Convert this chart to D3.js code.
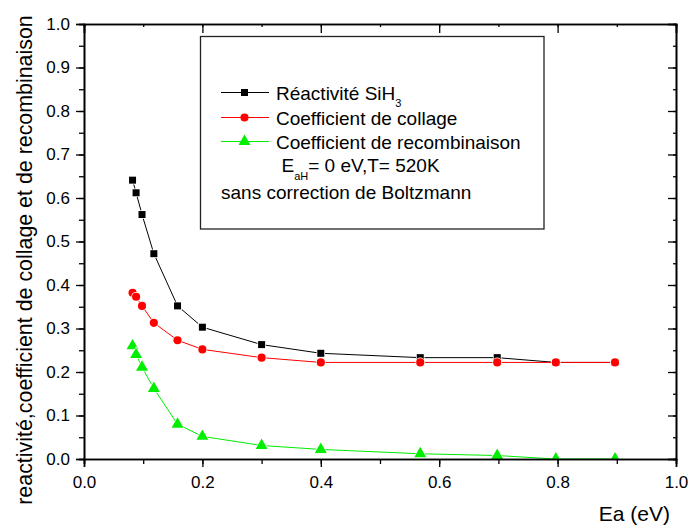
<!DOCTYPE html>
<html>
<head>
<meta charset="utf-8">
<script src="https://cdnjs.cloudflare.com/ajax/libs/d3/7.8.5/d3.min.js"></script>
<style>
body { margin: 0; background: #fff; }
text { font-family: "Liberation Sans", Arial, sans-serif; fill: #000; }
</style>
</head>
<body>
<svg></svg>
<script>
const width = 688;
const height = 527;

// data
const ea = [0.082, 0.088, 0.098, 0.118, 0.158, 0.2, 0.3, 0.4, 0.568, 0.698, 0.797, 0.897];
const reactivite = [0.641, 0.612, 0.562, 0.472, 0.352, 0.303, 0.263, 0.243, 0.233, 0.233, 0.222, 0.222];
const collage = [0.382, 0.373, 0.352, 0.313, 0.273, 0.252, 0.233, 0.222, 0.222, 0.222, 0.222, 0.222];
const recombinaison = [0.26, 0.24, 0.211, 0.162, 0.08, 0.052, 0.031, 0.022, 0.012, 0.008, 0.0, 0.0];
const xTicks = [0, 0.2, 0.4, 0.6, 0.8, 1.0];
const yTicks = [0, 0.1, 0.2, 0.3, 0.4, 0.5, 0.6, 0.7, 0.8, 0.9, 1.0];

const svg = d3.select('svg')
    .attr('width', width)
    .attr('height', height);

const plotLeft = 84, plotRight = 676, plotTop = 24, plotBottom = 459;

const x = d3.scaleLinear().domain([0, 1]).range([plotLeft, plotRight]);
const y = d3.scaleLinear().domain([0, 1]).range([plotBottom, plotTop]);

svg.append('clipPath').attr('id', 'plot-clip')
    .append('rect')
    .attr('x', plotLeft).attr('y', plotTop)
    .attr('width', plotRight - plotLeft).attr('height', plotBottom - plotTop);

// series
const series = [
    { name: 'reactivite', values: reactivite, color: '#000000', symbol: d3.symbolSquare, size: 49 },
    { name: 'collage', values: collage, color: '#ff0000', symbol: d3.symbolCircle, size: 52 },
    { name: 'recombinaison', values: recombinaison, color: '#00ee00', symbol: d3.symbolTriangle, size: 62 }
];

const line = d3.line()
    .x(d => x(d[0]))
    .y(d => y(d[1]));

const plot = svg.append('g').attr('clip-path', 'url(#plot-clip)');

series.forEach(s => {
    const pts = ea.map((e, i) => [e, s.values[i]]);
    plot.append('path')
        .datum(pts)
        .attr('d', line)
        .attr('fill', 'none')
        .attr('stroke', s.color)
        .attr('stroke-width', 1);
});
series.forEach(s => {
    const pts = ea.map((e, i) => [e, s.values[i]]);
    plot.append('g').selectAll('path')
        .data(pts)
        .enter()
        .append('path')
        .attr('transform', d => `translate(${x(d[0])},${y(d[1])})`)
        .attr('d', d3.symbol().type(s.symbol).size(s.size))
        .attr('fill', s.color)
        .attr('stroke', '#fff')
        .attr('stroke-width', 1.5)
        .attr('paint-order', 'stroke');
});

// axes
const fmt = d3.format('.1f');
const xMinor = d3.range(0, 1.0001, 0.1);
const yMinor = d3.range(0, 1.0001, 0.05);

svg.append('g')
    .attr('transform', `translate(0,${plotBottom})`)
    .call(d3.axisBottom(x).tickValues(xMinor).tickSize(5).tickFormat(''));
svg.append('g')
    .attr('class', 'lab')
    .attr('transform', `translate(0,${plotBottom})`)
    .call(d3.axisBottom(x).tickValues(xTicks).tickSize(8).tickPadding(9).tickFormat(fmt));
svg.append('g')
    .attr('transform', `translate(${plotLeft},0)`)
    .call(d3.axisLeft(y).tickValues(yMinor).tickSize(5).tickFormat(''));
svg.append('g')
    .attr('class', 'lab')
    .attr('transform', `translate(${plotLeft},0)`)
    .call(d3.axisLeft(y).tickValues(yTicks).tickSize(8).tickPadding(6).tickFormat(fmt));
svg.append('g')
    .attr('transform', `translate(0,${plotTop})`)
    .call(d3.axisTop(x).tickValues(xMinor).tickSize(-3).tickFormat(''));
svg.append('g')
    .attr('transform', `translate(0,${plotTop})`)
    .call(d3.axisTop(x).tickValues(xTicks).tickSize(-9).tickFormat(''));
svg.append('g')
    .attr('transform', `translate(${plotRight},0)`)
    .call(d3.axisRight(y).tickValues(yMinor).tickSize(-3).tickFormat(''));
svg.append('g')
    .attr('transform', `translate(${plotRight},0)`)
    .call(d3.axisRight(y).tickValues(yTicks).tickSize(-8).tickFormat(''));

svg.selectAll('.domain').attr('stroke', '#000').attr('stroke-width', 1.6);
svg.selectAll('.tick line').attr('stroke', '#000').attr('stroke-width', 1.3);
svg.selectAll('.lab .tick text').attr('font-size', 17).attr('fill', '#000')
    .style('font-family', '"Liberation Sans", Arial, sans-serif');

// legend
svg.append('rect')
    .attr('x', 200.5).attr('y', 36.5)
    .attr('width', 343.5).attr('height', 192.5)
    .attr('fill', 'none')
    .attr('stroke', '#222')
    .attr('stroke-width', 1.3);

const legendLabels = ['Réactivité SiH', 'Coefficient de collage', 'Coefficient de recombinaison'];
const legendY = [92.5, 117.5, 141.5];
series.forEach((s, i) => {
    const ly = legendY[i];
    svg.append('line')
        .attr('x1', 221).attr('x2', 269)
        .attr('y1', ly).attr('y2', ly)
        .attr('stroke', s.color).attr('stroke-width', 1);
    svg.append('path')
        .attr('transform', `translate(244.5,${ly})`)
        .attr('d', d3.symbol().type(s.symbol).size(s.size))
        .attr('fill', s.color);
    const t = svg.append('text')
        .attr('x', 276).attr('y', ly + 7.5)
        .attr('font-size', 19)
        .text(legendLabels[i]);
    if (i === 0) {
        t.append('tspan').attr('font-size', 11).attr('dy', 7).text('3');
    }
});

const eText = svg.append('text')
    .attr('x', 281.5).attr('y', 171.5)
    .attr('font-size', 19);
eText.append('tspan').text('E');
eText.append('tspan').attr('font-size', 11).attr('dy', 8).text('aH');
eText.append('tspan').attr('dy', -8).text('= 0 eV,T= 520K');

svg.append('text')
    .attr('x', 221).attr('y', 199)
    .attr('font-size', 19)
    .text('sans correction de Boltzmann');

// axis titles
svg.append('text')
    .attr('transform', `translate(32,260) rotate(-90)`)
    .attr('text-anchor', 'middle')
    .attr('font-size', 21.4)
    .text('reactivité,coefficient de collage et de recombinaison');

svg.append('text')
    .attr('x', 670).attr('y', 521)
    .attr('text-anchor', 'end')
    .attr('font-size', 21)
    .text('Ea (eV)');
</script>
</body>
</html>
